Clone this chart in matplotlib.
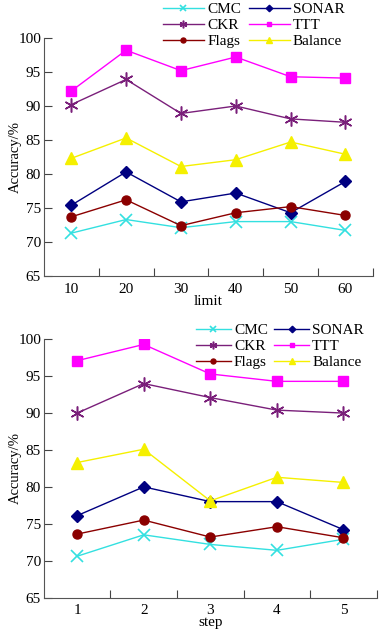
import matplotlib.pyplot as plt
import numpy as np

plt.rcParams['font.family'] = ['Liberation Serif', 'DejaVu Serif']
plt.rcParams['font.size'] = 11

series = ["CMC", "SONAR", "CKR", "TTT", "Flags", "Balance"]

limit = [10, 20, 30, 40, 50, 60]
limit_acc = {
    "CMC": [71.3, 73.3, 72.1, 73.0, 73.0, 71.7],
    "SONAR": [75.4, 80.3, 75.9, 77.2, 74.3, 78.9],
    "CKR": [90.2, 93.9, 88.9, 90.0, 88.1, 87.6],
    "TTT": [92.2, 98.2, 95.2, 97.2, 94.3, 94.1],
    "Flags": [73.7, 76.2, 72.4, 74.3, 75.2, 73.9],
    "Balance": [82.3, 85.3, 81.1, 82.1, 84.7, 82.9],
}

step = [1, 2, 3, 4, 5]
step_acc = {
    "CMC": [70.6, 73.5, 72.2, 71.4, 72.9],
    "SONAR": [76.1, 80.0, 78.0, 78.0, 74.2],
    "CKR": [90.0, 94.0, 92.1, 90.4, 90.0],
    "TTT": [97.1, 99.3, 95.3, 94.3, 94.3],
    "Flags": [73.6, 75.5, 73.2, 74.6, 73.1],
    "Balance": [83.3, 85.1, 78.1, 81.3, 80.6],
}

style = {
    "CMC": dict(color="#33e0e0", marker="x", ms=8, mew=1.2),
    "SONAR": dict(color="#000080", marker="D", ms=6, mew=1),
    "CKR": dict(color="#7a1f7a", marker=(6, 2, 0), ms=10, mew=1.1),
    "TTT": dict(color="#ff00ff", marker="s", ms=6.5, mew=1),
    "Flags": dict(color="#8b0000", marker="o", ms=6.5, mew=1),
    "Balance": dict(color="#f5f000", marker="^", ms=8, mew=1),
}
legend_order = ["CMC", "CKR", "Flags", "SONAR", "TTT", "Balance"]


def draw(ax, x, acc, xlabel, xlim, tick_edges, leg_anchor, hlen, colsp, ylab_x):
    lines = {}
    for name in series:
        s = style[name]
        ln, = ax.plot(x, acc[name], color=s["color"], lw=1.0,
                      marker=s["marker"], ms=s["ms"], mew=s["mew"],
                      mfc=s["color"], mec=s["color"], label=name)
        lines[name] = ln
    ax.set_xlim(*xlim)
    ax.set_ylim(65, 100)
    ax.set_yticks(np.arange(65, 101, 5))
    ax.set_xticks(tick_edges)
    ax.set_xticklabels([])
    ax.set_xticks(x, minor=True)
    ax.set_xticklabels([str(v) for v in x], minor=True)
    ax.tick_params(axis="x", which="minor", length=0, pad=5)
    ax.tick_params(axis="x", which="major", direction="in", length=6, color="#444444")
    ax.tick_params(axis="y", direction="in", length=6, color="#444444", pad=2)
    for sp in ["top", "right"]:
        ax.spines[sp].set_visible(False)
    for sp in ["left", "bottom"]:
        ax.spines[sp].set_color("#555555")
    ax.set_xlabel(xlabel, labelpad=-1)
    ax.set_ylabel("Accuracy/%", fontsize=10.5)
    ax.yaxis.set_label_coords(ylab_x, 0.5)
    ax.legend([lines[n] for n in legend_order], legend_order, ncol=2,
              frameon=False, markerscale=0.55, handlelength=hlen,
              handletextpad=0.2, columnspacing=colsp, labelspacing=0.15,
              borderpad=0, loc="upper left", bbox_to_anchor=leg_anchor,
              bbox_transform=fig.transFigure)


fig = plt.figure(figsize=(3.88, 6.33), dpi=100)
ax1 = fig.add_axes([0.113, 0.564, 0.848, 0.376])
ax2 = fig.add_axes([0.113, 0.056, 0.858, 0.408])

draw(ax1, limit, limit_acc, "limit", (5, 65), [15, 25, 35, 45, 55, 65],
     (0.40, 1.008), 2.7, 0.5, -0.067)
draw(ax2, step, step_acc, "step", (0.5, 5.5), [1.5, 2.5, 3.5, 4.5, 5.5],
     (0.485, 0.501), 2.3, 0.4, -0.066)

fig.savefig("out.png", dpi=100)
